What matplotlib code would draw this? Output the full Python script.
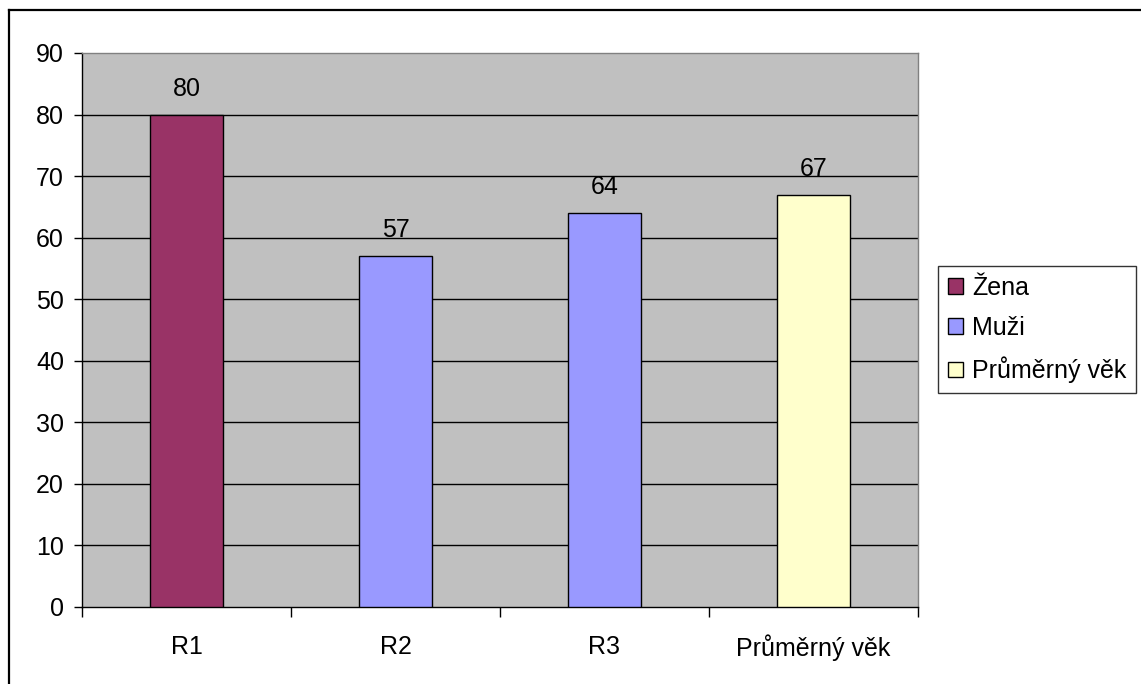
import matplotlib
matplotlib.use("Agg")
import matplotlib.pyplot as plt
from matplotlib.lines import Line2D
import numpy as np

categories = ["R1", "R2", "R3", "Průměrný věk"]
values = [80, 57, 64, 67]
groups = ["Žena", "Muži", "Muži", "Průměrný věk"]
group_colors = {"Žena": "#993366", "Muži": "#9999FF", "Průměrný věk": "#FFFFCC"}
y_ticks = [0, 10, 20, 30, 40, 50, 60, 70, 80, 90]

plt.rcParams["font.family"] = ["Liberation Sans", "DejaVu Sans"]
FS = 18

W, H = 1141, 684
fig = plt.figure(figsize=(W / 100, H / 100), dpi=100)
fig.patch.set_facecolor("white")

ax = fig.add_axes([82 / W, 1 - 607 / H, (918 - 82) / W, (607 - 53) / H])
ax.set_facecolor("#C0C0C0")

x = np.arange(len(categories))
seen = set()
for xi, v, g in zip(x, values, groups):
    lab = g if g not in seen else "_nolegend_"
    seen.add(g)
    ax.bar(xi, v, width=0.345, color=group_colors[g], edgecolor="black",
           linewidth=1.0, label=lab, zorder=3)
    ax.annotate(str(v), (xi, v), xytext=(0, 13.7), textcoords="offset points",
                ha="center", va="baseline", fontsize=FS, zorder=4)

ax.set_xlim(-0.5, len(categories) - 0.5)
ax.set_ylim(0, 90)
for t in y_ticks[1:-1]:
    ax.axhline(t, color="black", linewidth=1.0, zorder=1)

ax.set_yticks(y_ticks)
ax.tick_params(axis="y", direction="out", length=6, width=1, pad=7, labelsize=FS)
ax.set_xticks(x)
ax.set_xticklabels(categories)
ax.set_xticks(np.arange(-0.5, len(categories), 1.0), minor=True)
ax.tick_params(axis="x", which="major", length=0, pad=20, labelsize=FS)
ax.tick_params(axis="x", which="minor", direction="out", length=7, width=1)

for s in ["left", "bottom"]:
    ax.spines[s].set_color("black")
    ax.spines[s].set_linewidth(1.0)
for s in ["top", "right"]:
    ax.spines[s].set_color("#808080")
    ax.spines[s].set_linewidth(1.0)

leg = fig.legend(loc="center left", bbox_to_anchor=(938 / W, 1 - 329.5 / H),
                 fontsize=FS, frameon=True, fancybox=False, edgecolor="black",
                 handlelength=0.6, handleheight=0.6, handletextpad=0.36,
                 labelspacing=0.66, borderpad=0.4, borderaxespad=0)
leg.get_frame().set_linewidth(1.0)

# outer frame lines along the top and left edges
fig.add_artist(Line2D([9 / W, 1], [1 - 10 / H, 1 - 10 / H], color="black",
                      linewidth=1.6, transform=fig.transFigure))
fig.add_artist(Line2D([9 / W, 9 / W], [0, 1 - 10 / H], color="black",
                      linewidth=1.6, transform=fig.transFigure))

fig.savefig("out.png", dpi=100)
